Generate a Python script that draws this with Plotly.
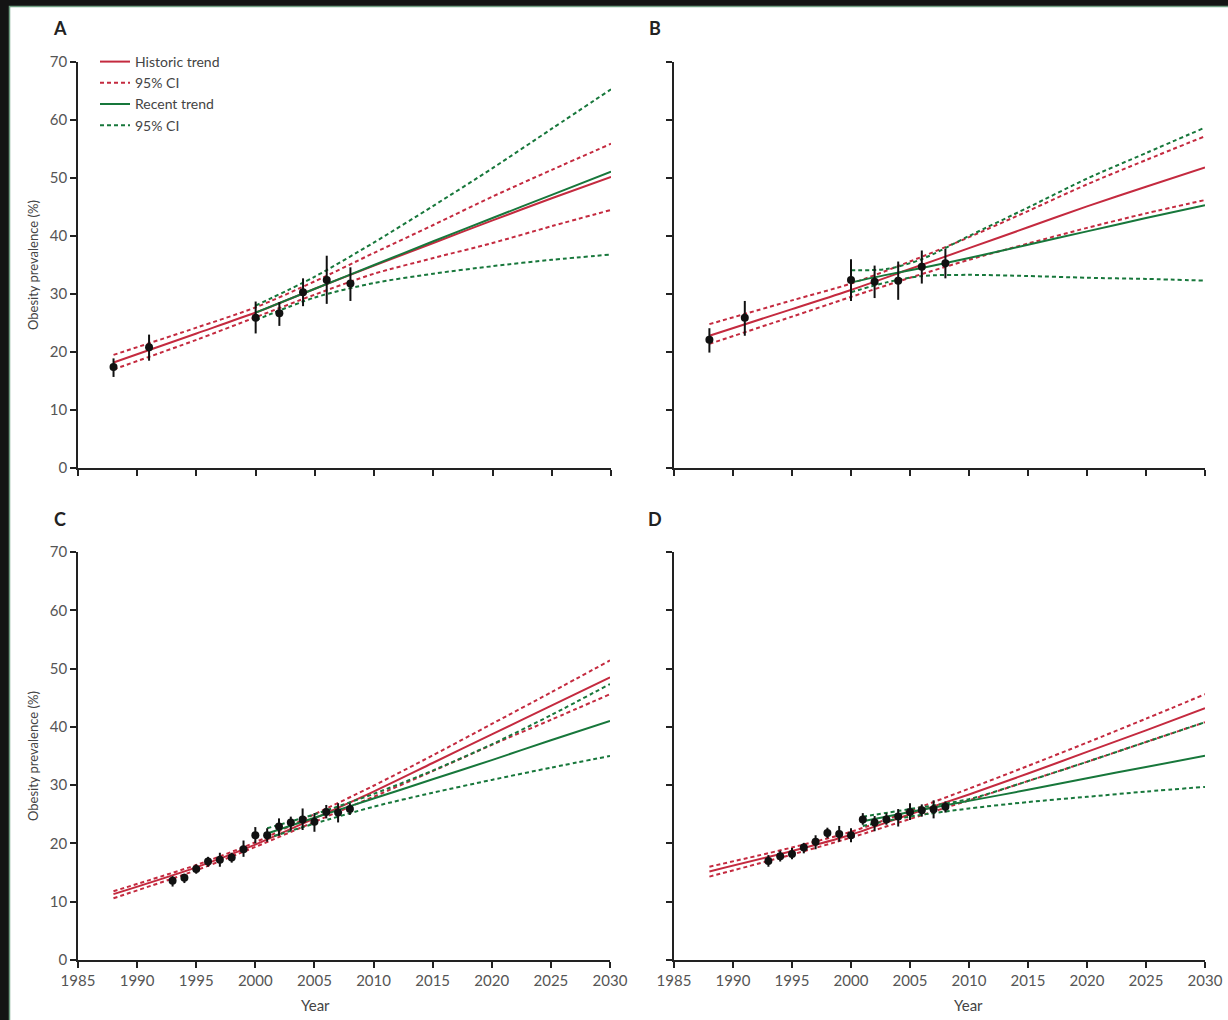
import plotly.graph_objects as go

W, H = 1228, 1020
RED = "#c42a3f"
GREEN = "#17773b"
FONT = "Lato"

# ---------- Panel A ----------
A_obs_years = [1988, 1991, 2000, 2002, 2004, 2006, 2008]
A_obs = [17.4, 20.8, 25.9, 26.7, 30.3, 32.4, 31.8]
A_obs_hi = [18.9, 23.0, 28.7, 28.6, 32.7, 36.6, 34.6]
A_obs_lo = [15.7, 18.5, 23.2, 24.5, 27.9, 28.3, 28.8]
A_hist_years = [1988, 1995, 2000, 2005, 2010, 2015, 2020, 2025, 2030]
A_hist = [18.2, 23.2, 26.8, 30.9, 34.9, 38.8, 42.7, 46.5, 50.2]
A_hist_hi = [19.5, 24.2, 27.7, 32.2, 37.1, 41.9, 46.8, 51.4, 55.9]
A_hist_lo = [17.0, 22.1, 26.0, 29.9, 33.5, 36.2, 38.8, 41.7, 44.5]
A_rec_years = [2000, 2005, 2010, 2015, 2020, 2025, 2030]
A_rec = [26.8, 30.9, 35.0, 39.1, 43.1, 47.1, 51.1]
A_rec_hi = [28.0, 33.0, 38.9, 45.2, 51.7, 58.5, 65.3]
A_rec_lo = [25.5, 29.4, 31.9, 33.5, 34.8, 35.9, 36.8]

# ---------- Panel B ----------
B_obs_years = [1988, 1991, 2000, 2002, 2004, 2006, 2008]
B_obs = [22.1, 25.9, 32.4, 32.1, 32.3, 34.7, 35.3]
B_obs_hi = [24.1, 28.8, 36.0, 34.9, 35.6, 37.5, 37.8]
B_obs_lo = [19.9, 22.8, 28.8, 29.3, 29.0, 31.8, 32.7]
B_hist_years = [1988, 1995, 2000, 2005, 2010, 2015, 2020, 2025, 2030]
B_hist = [22.8, 27.4, 30.7, 34.3, 37.9, 41.5, 45.1, 48.5, 51.8]
B_hist_hi = [24.8, 28.9, 31.8, 35.6, 39.8, 44.3, 48.9, 53.1, 57.2]
B_hist_lo = [21.4, 26.1, 29.5, 32.8, 35.9, 38.7, 41.4, 43.9, 46.2]
B_rec_years = [2000, 2003, 2006, 2010, 2015, 2020, 2025, 2030]
B_rec = [32.0, 33.3, 34.5, 36.2, 38.5, 40.8, 43.1, 45.3]
B_rec_hi = [34.1, 34.3, 36.0, 40.0, 44.9, 49.9, 54.3, 58.7]
B_rec_lo = [30.3, 32.0, 33.1, 33.3, 33.1, 32.8, 32.6, 32.3]

# ---------- Panel C ----------
C_obs_years = list(range(1993, 2009))
C_obs = [13.6, 14.1, 15.6, 16.9, 17.2, 17.6, 19.0, 21.4, 21.4, 22.9, 23.6, 24.1, 23.7, 25.4, 25.3, 25.9]
C_obs_hi = [14.4, 14.8, 16.4, 17.7, 18.4, 18.4, 20.5, 22.8, 22.6, 24.3, 24.6, 26.0, 25.2, 26.6, 26.9, 26.9]
C_obs_lo = [12.6, 13.2, 14.8, 16.0, 16.0, 16.7, 17.7, 20.0, 20.3, 21.3, 22.2, 22.3, 22.0, 24.3, 23.6, 24.9]
C_hist_years = [1988, 1995, 2000, 2005, 2010, 2015, 2020, 2025, 2030]
C_hist = [11.3, 15.9, 19.8, 24.3, 28.9, 33.8, 38.7, 43.6, 48.5]
C_hist_hi = [11.8, 16.3, 20.2, 25.0, 29.9, 35.1, 40.5, 45.9, 51.4]
C_hist_lo = [10.6, 15.4, 19.4, 23.7, 28.0, 32.4, 36.9, 41.2, 45.6]
C_rec_years = [2001, 2005, 2010, 2015, 2020, 2025, 2030]
C_rec = [21.7, 24.4, 27.7, 31.0, 34.3, 37.7, 41.0]
C_rec_hi = [22.6, 25.0, 28.5, 32.5, 37.0, 42.0, 47.35]
C_rec_lo = [20.9, 23.4, 26.3, 28.7, 30.9, 33.0, 35.0]

# ---------- Panel D ----------
D_obs_years = list(range(1993, 2009))
D_obs = [17.0, 17.8, 18.2, 19.3, 20.3, 21.8, 21.6, 21.4, 24.1, 23.6, 24.1, 24.6, 25.4, 25.7, 25.85, 26.3]
D_obs_hi = [18.0, 18.75, 19.2, 20.1, 21.4, 22.7, 23.0, 22.6, 25.2, 24.7, 25.2, 25.9, 26.9, 26.7, 27.4, 27.2]
D_obs_lo = [16.0, 16.9, 17.3, 18.3, 19.0, 20.9, 20.3, 20.2, 23.2, 22.1, 23.2, 22.9, 24.0, 24.6, 24.3, 25.3]
D_hist_years = [1988, 1995, 2000, 2005, 2010, 2015, 2020, 2025, 2030]
D_hist = [15.2, 18.7, 21.5, 25.0, 28.4, 32.0, 35.7, 39.4, 43.2]
D_hist_hi = [16.0, 19.3, 22.0, 25.6, 29.4, 33.3, 37.3, 41.4, 45.6]
D_hist_lo = [14.3, 18.1, 21.0, 24.2, 27.4, 30.7, 34.0, 37.4, 40.8]
D_rec_years = [2001, 2005, 2010, 2015, 2020, 2025, 2030]
D_rec = [23.8, 25.4, 27.3, 29.2, 31.2, 33.1, 35.05]
D_rec_hi = [24.6, 25.9, 27.6, 30.7, 34.0, 37.4, 40.8]
D_rec_lo = [23.0, 24.6, 26.0, 27.1, 28.0, 28.9, 29.7]

x_ticks = [1985, 1990, 1995, 2000, 2005, 2010, 2015, 2020, 2025, 2030]
y_ticks = [0, 10, 20, 30, 40, 50, 60, 70]
legend_labels = ["Historic trend", "95% CI", "Recent trend", "95% CI"]
panel_letters = ["A", "B", "C", "D"]

panels = [
    (A_obs_years, A_obs, A_obs_hi, A_obs_lo, A_hist_years, A_hist, A_hist_hi, A_hist_lo, A_rec_years, A_rec, A_rec_hi, A_rec_lo),
    (B_obs_years, B_obs, B_obs_hi, B_obs_lo, B_hist_years, B_hist, B_hist_hi, B_hist_lo, B_rec_years, B_rec, B_rec_hi, B_rec_lo),
    (C_obs_years, C_obs, C_obs_hi, C_obs_lo, C_hist_years, C_hist, C_hist_hi, C_hist_lo, C_rec_years, C_rec, C_rec_hi, C_rec_lo),
    (D_obs_years, D_obs, D_obs_hi, D_obs_lo, D_hist_years, D_hist, D_hist_hi, D_hist_lo, D_rec_years, D_rec, D_rec_hi, D_rec_lo),
]

# axes domains in pixels (left, right, bottom, top)
dom_px = [(78, 611, 468, 62), (674, 1205, 468, 62), (78, 610, 960, 552), (674, 1205, 960, 552)]

fig = go.Figure()
DASH = "4px,3px"

for i, p in enumerate(panels):
    oy, ov, ohi, olo, hy, hv, hhi, hlo, ry, rv, rhi, rlo = p
    ax = "" if i == 0 else str(i + 1)
    xa, ya = "x" + ax, "y" + ax
    show = i == 0
    common = dict(xaxis=xa, yaxis=ya, mode="lines", line_shape="spline")
    fig.add_trace(go.Scatter(x=hy, y=hv, line=dict(color=RED, width=2, smoothing=0.8),
                             name=legend_labels[0], showlegend=show, legendgroup="g1", **common))
    fig.add_trace(go.Scatter(x=hy, y=hhi, line=dict(color=RED, width=2, dash=DASH, smoothing=0.8),
                             name=legend_labels[1], showlegend=show, legendgroup="g2", **common))
    fig.add_trace(go.Scatter(x=hy, y=hlo, line=dict(color=RED, width=2, dash=DASH, smoothing=0.8),
                             name=legend_labels[1], showlegend=False, legendgroup="g2", **common))
    fig.add_trace(go.Scatter(x=ry, y=rv, line=dict(color=GREEN, width=2, smoothing=0.8),
                             name=legend_labels[2], showlegend=show, legendgroup="g3", **common))
    fig.add_trace(go.Scatter(x=ry, y=rhi, line=dict(color=GREEN, width=2, dash=DASH, smoothing=0.8),
                             name=legend_labels[3], showlegend=show, legendgroup="g4", **common))
    fig.add_trace(go.Scatter(x=ry, y=rlo, line=dict(color=GREEN, width=2, dash=DASH, smoothing=0.8),
                             name=legend_labels[3], showlegend=False, legendgroup="g4", **common))
    fig.add_trace(go.Scatter(
        x=oy, y=ov, xaxis=xa, yaxis=ya, mode="markers", showlegend=False,
        marker=dict(color="#111", size=8),
        error_y=dict(type="data", symmetric=False,
                     array=[h - v for h, v in zip(ohi, ov)],
                     arrayminus=[v - l for v, l in zip(ov, olo)],
                     color="#111", thickness=2, width=0)))

    l, r, b, t = dom_px[i]
    axis_common = dict(showgrid=False, zeroline=False, showline=True, linecolor="#222", linewidth=1.5,
                       ticks="outside", ticklen=6, tickwidth=1.5, tickcolor="#222", automargin=False,
                       tickfont=dict(family=FONT, size=15, color="#555"))
    fig.layout["xaxis" + ax] = dict(domain=[l / W, r / W], range=[1985, 2030], anchor=ya,
                                    tickvals=x_ticks, showticklabels=i >= 2, **axis_common)
    fig.layout["yaxis" + ax] = dict(domain=[1 - b / H, 1 - t / H], range=[0, 70], anchor=xa,
                                    tickvals=y_ticks, showticklabels=i % 2 == 0, **axis_common)

annotations = []
letter_pos = [(60, 28), (655, 28), (60, 519), (655, 519)]
for letter, (px, py) in zip(panel_letters, letter_pos):
    annotations.append(dict(text="<b>%s</b>" % letter, x=px / W, y=1 - py / H, xref="paper", yref="paper",
                            xanchor="center", yanchor="middle",
                            showarrow=False, font=dict(family=FONT, size=18, color="#222")))
for py in (265, 756):
    annotations.append(dict(text="Obesity prevalence (%)", x=33 / W, y=1 - py / H, xref="paper", yref="paper",
                            xanchor="center", yanchor="middle",
                            textangle=-90, showarrow=False, font=dict(family=FONT, size=13, color="#444")))
for px in (315, 968):
    annotations.append(dict(text="Year", x=px / W, y=1 - 1005 / H, xref="paper", yref="paper",
                            xanchor="center", yanchor="middle",
                            showarrow=False, font=dict(family=FONT, size=15, color="#444")))

fig.update_layout(
    width=W, height=H, margin=dict(l=0, r=0, t=0, b=0, pad=0, autoexpand=False),
    template="none",
    paper_bgcolor="#141414", plot_bgcolor="rgba(0,0,0,0)",
    annotations=annotations,
    shapes=[dict(type="rect", xref="paper", yref="paper", x0=9.5 / W, x1=1.01, y0=-0.01, y1=1 - 6.5 / H,
                 fillcolor="white", line=dict(color="#6f9f82", width=1.5), layer="below")],
    legend=dict(x=95 / W, y=1 - 46 / H, xanchor="left", yanchor="top", tracegroupgap=0,
                font=dict(family=FONT, size=14, color="#444"), bgcolor="rgba(0,0,0,0)", borderwidth=0),
)

fig.write_html(
    "out.html",
    config={"displayModeBar": False},
    post_script="document.body.style.margin='0';document.body.style.background='#141414';"
                "document.documentElement.style.overflow='hidden';",
)
